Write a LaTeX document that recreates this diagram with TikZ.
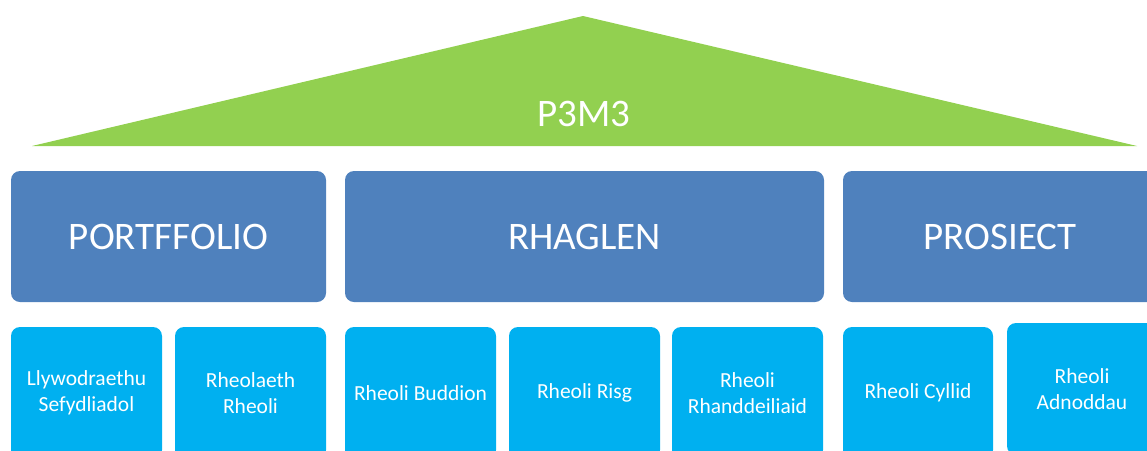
\documentclass[tikz,border=0pt]{standalone}
\usepackage{fontspec}
\setmainfont{Carlito}
\definecolor{tgreen}{HTML}{92D050}
\definecolor{mblue}{HTML}{4F81BD}
\definecolor{lblue}{HTML}{00B0F0}
\begin{document}
\begin{tikzpicture}[x=1pt,y=-1pt,
  topbox/.style={fill=mblue, draw=none, rounded corners=9pt, text=white,
    font=\fontsize{39}{46}\selectfont, minimum height=131pt, inner sep=0pt},
  subbox/.style={fill=lblue, draw=none, rounded corners=9pt, text=white,
    font=\fontsize{21.5}{25.5}\selectfont, minimum width=151pt, minimum height=132pt,
    inner sep=0pt, align=center}]
\useasboundingbox (0,0) rectangle (1147,450);
\clip (0,0) rectangle (1147,450);
\fill[tgreen] (32,146) -- (583,16) -- (1137,146) -- cycle;
\node[text=white, font=\fontsize{39}{46}\selectfont, inner sep=0pt] (p3m3) at (584,114) {P3M3};
\node[topbox, minimum width=315pt] (portf) at (168.5,236.5) {PORTFFOLIO};
\node[topbox, minimum width=479pt] (rhag) at (584.5,236.5) {RHAGLEN};
\node[topbox, minimum width=314pt] (pros) at (1000,236.5) {PROSIECT};
\node[subbox] (s1) at (86.5,393) {Llywodraethu\\Sefydliadol};
\node[subbox] (s2) at (250.5,393) {Rheolaeth\\Rheoli};
\node[subbox] (s3) at (420.5,393) {Rheoli Buddion};
\node[subbox] (s4) at (584.5,393) {Rheoli Risg};
\node[subbox] (s5) at (747.5,393) {Rheoli\\Rhanddeiliaid};
\node[subbox, minimum width=150pt] (s6) at (918,393) {Rheoli Cyllid};
\node[subbox, minimum width=150pt] (s7) at (1082,389) {Rheoli\\Adnoddau};
\end{tikzpicture}
\end{document}
